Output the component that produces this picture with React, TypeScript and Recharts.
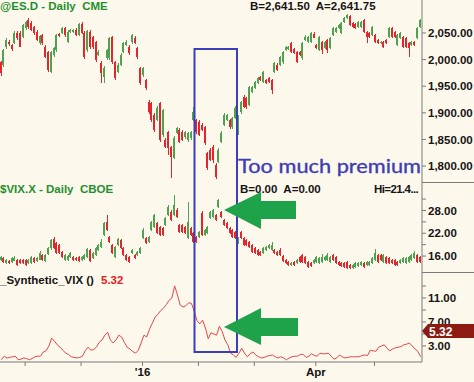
import { ComposedChart, Bar, Line, XAxis, YAxis } from 'recharts';

// @ES.D daily bars (Oct 2015 .. May 2016)
const esOpen = [1995,1990,2024,2033,2027,2031,2050,2050,2042,2059, 2074,2069,2061,2052,2031,2046,2024,2014,1977,2009, 2018,2048,2050,2059,2033,2052,2052,2056,2046,2067, 2050,2018,2052,2042,2033,2009,1994,1967,2003,2003, 2042,1995,1977,1990,2014,2027,2024,2033,2041,2022, 1984,1971,1962,1920,1918,1896,1886,1918,1858,1849, 1864,1836,1815,1862,1868,1864,1854,1849,1853,1886, 1886,1883,1877,1873,1824,1830,1836,1802,1807,1845, 1877,1886,1886,1873,1890,1871,1901,1930,1928,1915, 1939,1947,1956,1967,1958,1962,1965,1962,1977,1990, 1990,1995,2018,2020,2031,2020,2014,2014,2003,2037, 2033,2033,2048,2027,2018,2033,2022,2037,2022,2046, 2052,2059,2050,2071,2078,2082,2069,2067,2061,2061, 2074,2052,2050,2046,2046,2037,2031,2033,2037,2042, 2059,2052,2027,2041,2042,2041,2031,2027,2033,2041, 2061];
const esHigh = [1998,2020,2040,2037,2030,2053,2054,2053,2067,2073, 2078,2072,2064,2055,2047,2049,2027,2016,2016,2024, 2048,2050,2062,2062,2055,2058,2058,2059,2069,2070, 2053,2056,2055,2044,2035,2018,1997,1988,2020,2043, 2045,1998,1993,2012,2033,2036,2027,2048,2044,2024, 1986,1987,1964,1924,1920,1899,1912,1921,1908,1852, 1866,1838,1856,1874,1871,1867,1866,1864,1866,1911, 1889,1886,1880,1876,1826,1833,1839,1805,1833,1865, 1899,1898,1889,1892,1912,1895,1922,1933,1930,1950, 1950,1960,1967,1969,1979,1964,1967,1964,1996,1993, 2007,2016,2026,2026,2033,2022,2016,2016,2033,2046, 2044,2052,2051,2029,2044,2035,2035,2039,2043,2061, 2061,2067,2071,2080,2086,2084,2071,2069,2073,2073, 2076,2054,2052,2063,2048,2039,2035,2035,2039,2061, 2061,2054,2048,2052,2044,2043,2033,2035,2035,2061, 2076];
const esLow = [1970,1986,2020,2026,2017,2028,2038,2022,2040,2057, 2058,2053,2047,2034,2028,2028,2002,1977,1975,2006, 2015,2042,2048,2044,2030,2050,2050,2044,2044,2048, 2000,2015,2020,2020,1996,2006,1956,1956,2000,2000, 1992,1962,1974,1987,2012,2025,2009,2030,2029,2002, 1953,1968,1944,1898,1883,1864,1883,1845,1855,1833, 1820,1777,1812,1860,1843,1846,1851,1846,1850,1884, 1860,1855,1865,1840,1793,1808,1805,1775,1804,1842, 1874,1884,1870,1870,1888,1858,1898,1908,1908,1912, 1937,1945,1954,1960,1956,1954,1956,1935,1975,1978, 1988,1992,2016,2018,2012,2010,1993,2007,2000,2035, 2031,2031,2039,2020,2016,2010,2020,2012,2020,2044, 2050,2057,2048,2069,2076,2063,2059,2057,2059,2059, 2050,2031,2040,2044,2031,2029,2029,2022,2029,2040, 2040,2040,2025,2039,2022,2022,2005,2025,2025,2039, 2059];
const esClose = [1975,2018,2037,2029,2020,2050,2041,2024,2065,2071, 2061,2056,2050,2037,2044,2031,2005,1980,2014,2022, 2046,2044,2059,2046,2052,2056,2056,2046,2067,2050, 2005,2054,2024,2024,1999,2014,1975,1984,2018,2041, 1995,1965,1990,2009,2031,2033,2012,2046,2031,2005, 1956,1984,1947,1901,1886,1868,1909,1849,1905,1836, 1834,1817,1853,1871,1845,1849,1864,1862,1864,1901, 1864,1858,1868,1843,1796,1811,1811,1779,1830,1862, 1896,1896,1873,1890,1909,1892,1920,1911,1911,1948, 1948,1958,1965,1962,1977,1956,1958,1943,1994,1980, 2005,2014,2024,2024,2014,2012,1995,2009,2031,2042, 2042,2050,2041,2022,2042,2018,2033,2018,2041,2059, 2059,2065,2069,2078,2084,2065,2061,2059,2071,2071, 2052,2042,2042,2061,2033,2031,2033,2024,2031,2059, 2042,2042,2046,2050,2024,2024,2022,2033,2027,2059, 2074];

// $VIX.X daily bars
const vixOpen = [14.9,15.5,14.1,14.7,14.4,14.7,14.9,14.9,14.9,14.9, 14.1,14.1,15.5,14.7,14.9,16.3,14.7,16.5,18.1,20.5, 19.4,18.9,17.0,14.9,14.9,15.7,15.7,15.5,15.7,14.9, 15.2,15.7,17.6,15.5,16.3,17.6,18.4,21.5,25.0,21.0, 18.9,15.7,18.9,20.2,18.1,16.3,15.7,16.8,16.3,16.3, 16.8,20.7,20.7,19.7,22.9,23.6,24.7,23.6,23.4,24.2, 26.8,27.6,26.8,28.1,24.2,24.2,23.6,20.7,23.4,22.1, 21.0,21.0,27.3,21.5,22.1,26.0,26.3,26.8,28.9,27.6, 25.5,24.7,23.4,22.9,22.3,19.4,22.3,20.7,20.2,19.7, 18.9,18.1,17.6,17.0,16.8,17.6,18.1,17.6,17.6,17.0, 17.6,16.0,14.9,14.4,13.6,14.4,14.1,15.7,16.3,15.7, 14.4,14.1,14.1,14.4,14.1,14.4,14.9,14.9,14.4,16.3, 15.7,14.4,14.1,14.1,14.4,13.6,12.9,13.1,13.4,13.6, 14.1,13.6,13.6,14.1,14.9,16.3,16.3,14.4,15.7,15.5, 14.9,14.9,14.4,14.1,14.4,14.1,14.4,14.9,15.5,16.3, 15.7];
const vixHigh = [16.0,15.8,15.2,15.0,15.8,15.9,15.2,15.2,15.1,15.2, 15.2,16.0,15.8,15.8,17.2,16.6,16.6,18.5,20.6,21.0, 19.7,19.2,17.3,16.5,16.3,17.0,16.0,15.7,16.0,16.0, 16.5,18.2,17.9,17.0,18.4,19.2,20.5,25.0,26.8,21.3, 19.2,18.7,20.8,20.5,18.4,16.5,16.0,17.9,16.5,17.3, 18.4,23.3,21.0,21.3,25.3,27.1,25.0,23.9,23.6,26.3, 29.5,28.1,32.1,28.6,24.5,24.5,23.9,30.2,23.6,22.3, 21.3,22.6,27.8,23.1,23.9,27.9,28.4,27.1,31.0,27.9, 25.7,25.0,23.6,23.1,22.6,21.0,22.6,21.0,20.5,20.0, 19.2,18.4,17.9,17.3,18.4,18.7,19.2,19.7,17.9,17.3, 18.0,16.3,15.2,14.7,14.4,14.7,15.2,16.0,16.5,16.0, 14.7,14.4,15.2,16.0,15.7,16.5,16.0,16.8,16.0,16.5, 16.0,14.7,14.4,14.4,14.7,13.9,13.9,14.4,14.4,14.7, 14.4,14.7,14.7,15.7,17.8,16.5,16.5,16.5,16.0,15.7, 15.2,15.2,14.7,15.2,15.7,15.7,16.0,16.5,17.3,16.5, 16.0];
const vixLow = [14.7,14.2,14.0,13.9,14.2,14.5,13.4,13.9,13.9,13.4, 13.9,13.9,14.2,14.5,14.7,14.7,14.5,16.3,17.8,17.8, 16.5,16.5,15.5,14.7,14.7,15.5,14.7,14.7,14.5,14.7, 15.0,15.5,14.5,15.2,16.0,17.3,18.1,21.2,22.6,19.4, 16.5,15.5,18.6,17.8,16.0,14.7,14.2,16.5,15.2,16.0, 16.5,20.5,19.2,19.4,22.6,23.3,21.8,21.3,21.3,23.9, 26.5,25.2,26.5,26.0,22.1,22.1,21.8,20.5,21.3,19.4, 19.4,20.7,21.3,21.3,21.8,25.7,26.0,25.2,28.6,26.0, 23.9,23.1,21.8,20.7,20.5,19.2,20.5,18.6,18.6,18.1, 16.8,16.5,16.0,16.0,16.5,17.3,17.9,17.3,16.5,16.0, 16.0,14.4,13.9,13.4,13.4,13.4,13.9,14.2,14.2,13.9, 12.9,13.1,13.9,14.2,13.9,14.2,14.7,14.7,14.2,14.7, 13.9,13.4,13.1,12.9,12.6,12.6,12.6,12.9,13.1,13.4, 12.9,13.4,13.4,13.9,14.7,14.2,14.7,14.2,13.9,13.9, 13.9,13.4,13.4,13.9,14.2,13.9,14.2,14.7,15.2,14.2, 14.2];
const vixClose = [15.7,14.4,14.9,14.1,15.5,15.5,13.6,14.1,14.1,13.6, 14.9,15.7,14.4,15.5,16.8,14.9,16.3,18.1,20.2,18.1, 16.8,16.8,15.7,16.3,16.0,16.8,14.9,14.9,14.7,15.7, 16.3,17.9,14.7,16.8,18.1,18.9,19.7,24.7,22.9,19.7, 16.8,18.4,20.5,18.1,16.3,14.9,14.4,17.6,15.5,17.0, 18.1,22.9,19.4,21.0,25.0,26.8,22.1,21.5,21.5,26.0, 28.9,25.5,29.5,26.3,22.3,22.3,22.1,25.0,21.5,19.7, 19.7,22.3,21.5,22.9,23.6,27.6,28.1,25.5,30.8,26.3, 24.2,23.4,22.1,21.0,20.7,20.7,20.7,18.9,18.9,18.4, 17.0,16.8,16.3,16.3,18.1,18.4,18.9,18.9,16.8,16.3, 16.3,14.7,14.1,13.6,14.1,13.6,14.9,14.4,14.4,14.1, 13.1,13.4,14.9,15.7,15.5,15.7,15.7,16.3,15.7,14.9, 14.1,13.6,13.4,13.1,12.8,12.8,13.6,14.1,14.1,14.4, 13.1,14.4,14.4,15.5,16.8,14.4,14.9,16.3,14.1,14.1, 14.1,13.6,13.6,14.9,15.5,15.5,15.7,16.3,16.8,14.4, 14.4];

// _Synthetic_VIX indicator
const synthetic = [0.7,1.3,1.0,1.1,1.2,1.3,0.7,0.8,1.0,0.9, 0.7,0.9,1.2,1.3,1.3,2.0,2.2,3.0,4.3,3.8, 3.2,2.8,2.3,1.8,1.6,1.2,1.1,1.0,1.1,1.3, 2.2,2.8,2.3,2.4,2.8,3.6,4.0,4.8,5.3,4.0, 3.5,4.0,4.8,4.5,3.6,2.8,2.5,2.1,1.8,2.3, 3.5,4.8,4.5,5.8,6.8,7.8,8.3,8.9,9.3,9.9, 10.6,11.0,13.0,11.5,9.8,9.5,9.7,10.2,10.1,8.8, 7.2,6.7,7.3,6.0,4.2,5.2,5.0,4.8,6.3,5.4, 4.0,3.2,1.8,1.5,1.1,1.8,2.6,1.8,1.2,1.7, 2.0,1.5,1.2,1.0,1.1,1.3,1.4,1.5,1.2,1.0, 1.2,1.0,0.7,1.0,1.2,1.3,1.3,1.6,1.6,1.1, 1.3,1.7,1.4,1.3,1.8,1.7,1.7,1.8,1.3,0.8, 1.0,1.5,1.2,1.0,1.1,1.2,1.2,1.2,1.2,1.4, 1.5,1.4,2.3,2.2,2.1,2.8,3.0,3.2,2.6,2.2, 2.5,2.7,2.8,2.9,3.2,3.3,3.5,3.0,2.5,2.1, 1.2];

const esTicks = [1800, 1850, 1900, 1950, 2000, 2050];
const vixTicks = [16, 19, 22, 25, 28, 31];
const vixLabeled = [16, 22, 28];
const synTicks = [3, 5, 7, 9, 11, 13];
const synLabeled = [3, 7, 11];
const monthTicks = [8.5, 28.5, 50.5, 70.5, 90.5, 112.5, 133.5];
const monthLabels = ['', '', "'16", '', '', 'Apr', ''];

const BG = '#fdf8ec';
const AXIS = '#7a7a7a';
const UP = '#4fa24f';
const DOWN = '#e2262b';
const FONT = '"Liberation Sans", Arial, sans-serif';
const FS = 11.5;

const rows = esClose.map((c, i) => ({
  i,
  es: [esLow[i], esHigh[i]],
  esO: esOpen[i],
  esC: c,
  vix: [vixLow[i], vixHigh[i]],
  vixO: vixOpen[i],
  vixC: vixClose[i],
  syn: synthetic[i],
}));

const fmt2 = (v: number) =>
  v.toLocaleString('en-US', { minimumFractionDigits: 2, maximumFractionDigits: 2 });

function candle(key: string) {
  return (p: any) => {
    const { x, y, width, height, payload } = p;
    if (!payload) return <g />;
    const [lo, hi] = payload[key];
    const o = payload[key + 'O'];
    const c = payload[key + 'C'];
    const top = Math.min(y, y + height);
    const h = Math.abs(height);
    const k = hi > lo ? h / (hi - lo) : 0;
    const toY = (v: number) => top + (hi - v) * k;
    const cx = Math.floor(x + width / 2);
    const col = c >= o ? UP : DOWN;
    const bTop = Math.round(toY(Math.max(o, c)));
    const bH = Math.max(1, Math.round(toY(Math.min(o, c))) - bTop);
    return (
      <g>
        <rect x={cx} y={Math.round(top)} width={1} height={Math.max(1, Math.round(h))} fill={col} />
        <rect x={cx - 1} y={bTop} width={2} height={bH} fill={col} />
      </g>
    );
  };
}

const tickStyle = { fontSize: FS, fontWeight: 700, fill: '#151515', fontFamily: FONT };

const xAxisHidden = (
  <XAxis type="number" dataKey="i" domain={[-0.5, 150.5]} hide />
);

function Label({ x, y, color, children, spacing }: any) {
  return (
    <div
      style={{
        position: 'absolute',
        left: x,
        top: y - 7,
        lineHeight: '14px',
        fontFamily: FONT,
        fontSize: FS,
        fontWeight: 700,
        color,
        whiteSpace: 'pre',
        letterSpacing: spacing || 0,
      }}
    >
      {children}
    </div>
  );
}

export default function App() {
  return (
    <div
      style={{
        position: 'absolute',
        left: 0,
        top: 0,
        width: 474,
        height: 382,
        background: BG,
        overflow: 'hidden',
      }}
    >
      <div style={{ position: 'absolute', left: 0, top: 0 }}>
        <ComposedChart width={474} height={182} data={rows} margin={{ top: 0, right: 0, bottom: 0, left: 0 }}>
          {xAxisHidden}
          <YAxis
            orientation="right"
            width={52}
            domain={[1770, 2112]}
            ticks={esTicks}
            interval={0}
            allowDataOverflow
            tickFormatter={fmt2}
            tick={tickStyle}
            tickSize={4}
            tickMargin={2}
            axisLine={{ stroke: AXIS }}
            tickLine={{ stroke: AXIS }}
          />
          <Bar dataKey="es" barSize={2} shape={candle('es')} isAnimationActive={false} />
        </ComposedChart>
      </div>

      <div style={{ position: 'absolute', left: 0, top: 182 }}>
        <ComposedChart width={474} height={90} data={rows} margin={{ top: 0, right: 0, bottom: 0, left: 0 }}>
          {xAxisHidden}
          <YAxis
            orientation="right"
            width={52}
            domain={[11.8, 35.5]}
            ticks={vixTicks}
            interval={0}
            allowDataOverflow
            tickFormatter={(v: number) => (vixLabeled.includes(v) ? fmt2(v) : '')}
            tick={tickStyle}
            tickSize={4}
            tickMargin={2}
            axisLine={{ stroke: AXIS }}
            tickLine={{ stroke: AXIS }}
          />
          <Bar dataKey="vix" barSize={2} shape={candle('vix')} isAnimationActive={false} />
        </ComposedChart>
      </div>

      <div style={{ position: 'absolute', left: 0, top: 272 }}>
        <ComposedChart width={474} height={110} data={rows} margin={{ top: 0, right: 0, bottom: 0, left: 0 }}>
          <XAxis
            type="number"
            dataKey="i"
            domain={[-0.5, 150.5]}
            ticks={monthTicks}
            interval={0}
            height={20}
            tickFormatter={(v: number) => monthLabels[monthTicks.indexOf(v)] || ''}
            tick={tickStyle}
            tickSize={4}
            tickMargin={2}
            axisLine={{ stroke: AXIS }}
            tickLine={{ stroke: AXIS }}
          />
          <YAxis
            orientation="right"
            width={52}
            domain={[0.33, 15.33]}
            ticks={synTicks}
            interval={0}
            allowDataOverflow
            tickFormatter={(v: number) => (synLabeled.includes(v) ? fmt2(v) : '')}
            tick={tickStyle}
            tickSize={4}
            tickMargin={2}
            axisLine={{ stroke: AXIS }}
            tickLine={{ stroke: AXIS }}
          />
          <Line
            type="linear"
            dataKey="syn"
            stroke="#e5464a"
            strokeWidth={1}
            dot={false}
            isAnimationActive={false}
          />
        </ComposedChart>
      </div>

      <Label x={0} y={6} color="#1f8f2f">{'@ES.D - Daily  CME'}</Label>
      <Label x={250} y={6} color="#151515">{'B=2,641.50  A=2,641.75'}</Label>
      <Label x={0} y={189} color="#1f8f2f">{'$VIX.X - Daily  CBOE'}</Label>
      <Label x={240} y={189} color="#151515">{'B=0.00  A=0.00'}</Label>
      <Label x={374} y={189} color="#151515" spacing={-0.6}>{'Hi=21.4...'}</Label>
      <Label x={0} y={280} color="#151515">{'_Synthetic_VIX ()'}</Label>
      <Label x={101} y={280} color="#e3201b">{'5.32'}</Label>

      <svg width={474} height={382} style={{ position: 'absolute', left: 0, top: 0, pointerEvents: 'none' }}>
        <line x1={422} y1={182.5} x2={474} y2={182.5} stroke={AXIS} />
        <line x1={422} y1={272.5} x2={474} y2={272.5} stroke={AXIS} />
        <rect x={194.5} y={49} width={42.5} height={303} fill="none" stroke="#3b3fb6" strokeWidth={2} />
        <text
          x={238}
          y={173}
          fontFamily="Lato, sans-serif"
          fontSize={19}
          fill="#3d3db5"
          stroke="#3d3db5"
          strokeWidth={0.35}
          textLength={183}
          lengthAdjust="spacingAndGlyphs"
        >
          Too much premium
        </text>
        <polygon points="224,210 261,192 261,201 296,201 296,219 261,219 261,229" fill="#1fa34a" />
        <polygon points="224,327 261,308 261,318 298,318 298,336 261,336 261,345" fill="#1fa34a" />
        <polygon points="422,331 428,324 474,324 474,338 428,338" fill="#8e1b12" />
        <text x={429} y={335.5} fill="#ffffff" fontFamily={FONT} fontWeight={700} fontSize={12}>
          5.32
        </text>
      </svg>
    </div>
  );
}
